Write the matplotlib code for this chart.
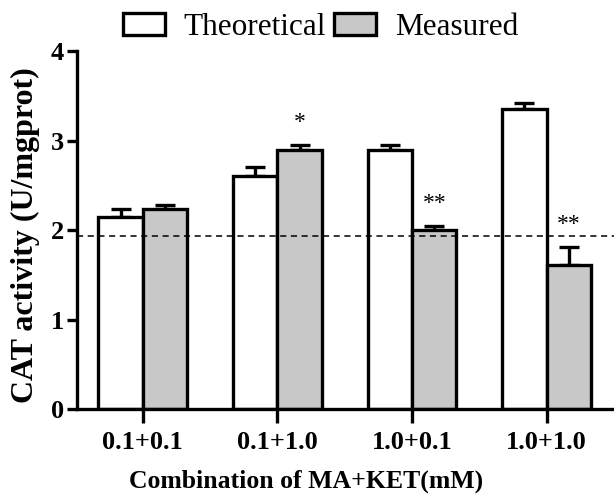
import matplotlib
matplotlib.use("Agg")
import matplotlib.pyplot as plt
import numpy as np

# CAT activity for each MA+KET combination
combos = ["0.1+0.1", "0.1+1.0", "1.0+0.1", "1.0+1.0"]
theoretical = [2.14, 2.60, 2.89, 3.35]
theoretical_err = [0.09, 0.10, 0.06, 0.07]
measured = [2.23, 2.89, 2.00, 1.61]
measured_err = [0.05, 0.06, 0.05, 0.20]
marks = ["", "*", "**", "**"]
baseline = 1.93

plt.rcParams["font.family"] = ["Liberation Serif", "DejaVu Serif"]

fig = plt.figure(figsize=(6.14, 5.01), dpi=100)
ax = fig.add_axes([0.125, 0.1836, 0.875, 0.7146])

x = np.arange(len(combos))
w = 0.33
lw = 2.4
grey = "#c8c8c8"

for xs, vals, errs, color in [(x - w / 2, theoretical, theoretical_err, "white"),
                              (x + w / 2, measured, measured_err, grey)]:
    ax.bar(xs, vals, width=w, color=color, edgecolor="black", linewidth=lw, zorder=2)
    ax.errorbar(xs, vals, yerr=[np.zeros(len(errs)), errs], fmt="none",
                ecolor="black", elinewidth=lw, capsize=7, capthick=lw, zorder=1)

# significance marks above the measured bars
for xi, v, e, m in zip(x + w / 2, measured, measured_err, marks):
    if m:
        ax.text(xi, v + e + 0.25, m, ha="center", va="center", fontsize=17)

ax.axhline(baseline, color="black", linestyle=(0, (4, 3)), linewidth=1.1, zorder=3)

ax.set_xlim(-0.49, 3.5)
ax.set_ylim(0, 4)
ax.set_yticks([0, 1, 2, 3, 4])
ax.set_xticks(x, labels=combos)
ax.tick_params(axis="y", length=7, width=lw, pad=2, labelsize=19)
ax.tick_params(axis="x", length=10, width=lw, pad=6, labelsize=19)
for t in ax.get_xticklabels() + ax.get_yticklabels():
    t.set_fontweight("bold")
for s in ["top", "right"]:
    ax.spines[s].set_visible(False)
for s in ["left", "bottom"]:
    ax.spines[s].set_linewidth(lw)

ax.set_ylabel("CAT activity (U/mgprot)", fontsize=23, fontweight="bold",
              labelpad=8, y=0.487)
ax.set_xlabel("Combination of MA+KET(mM)", fontsize=18.5, fontweight="bold",
              labelpad=11, x=0.426)

h1 = plt.Rectangle((0, 0), 1, 1, facecolor="white", edgecolor="black", linewidth=lw)
h2 = plt.Rectangle((0, 0), 1, 1, facecolor=grey, edgecolor="black", linewidth=lw)
fig.legend([h1, h2], ["Theoretical", "Measured"], loc="center",
           bbox_to_anchor=(0.522, 0.945), ncol=2, frameon=False, fontsize=22.5,
           handlelength=1.35, handleheight=0.7, columnspacing=0.25,
           handletextpad=0.6, borderpad=0.1)

fig.savefig("out.png", dpi=100)
